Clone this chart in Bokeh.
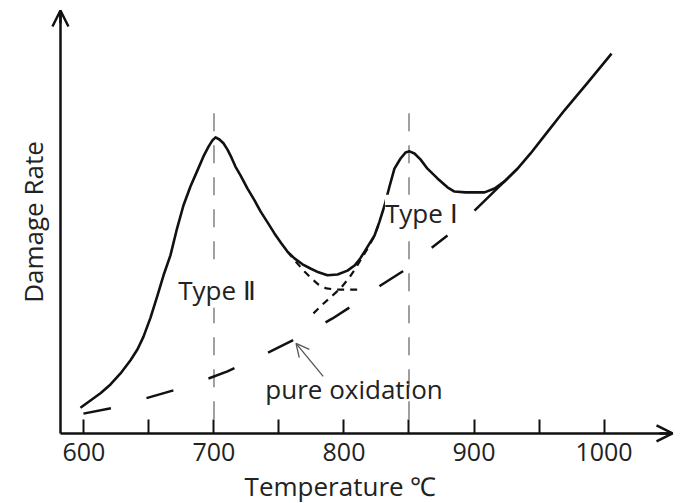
from bokeh.plotting import figure
from bokeh.models import Range1d, LinearAxis, FixedTicker, Arrow, OpenHead, Label
from bokeh.embed import file_html
from bokeh.resources import INLINE

# ---- data (temperature in degC, damage rate in arbitrary units 0-100) ----
curve_t = [597.3, 605.0, 612.7, 620.4, 628.1, 635.8, 641.2, 645.8, 651.2, 656.5,
           661.2, 666.5, 671.2, 676.5, 681.9, 687.3, 691.9, 695.8, 698.8, 701.2,
           704.2, 707.3, 710.4, 713.5, 716.5, 720.4, 725.8, 731.2, 735.8, 741.2,
           746.5, 751.9, 756.5, 761.9, 768.1, 774.2, 780.4, 787.3, 795.0, 802.7,
           808.1, 811.9, 815.8, 819.6, 823.5, 827.3, 831.2, 835.0, 838.8, 843.5,
           847.3, 850.4, 854.2, 858.8, 864.2, 871.9, 879.6, 885.0, 893.5, 901.2,
           908.1, 915.8, 923.5, 933.5, 943.5, 955.0, 969.6, 988.1, 1005.8]
curve_r = [6.1, 7.8, 9.5, 11.6, 14.2, 17.3, 19.9, 22.9, 27.4, 32.6,
           37.4, 42.1, 48.0, 53.9, 58.4, 62.2, 65.5, 67.8, 69.3, 70.0,
           69.5, 68.6, 67.1, 65.2, 63.1, 61.0, 57.9, 55.1, 52.5, 49.9,
           47.3, 44.9, 43.0, 41.4, 40.0, 39.0, 38.1, 37.4, 37.6, 38.5,
           39.7, 41.1, 43.0, 44.9, 46.8, 50.1, 53.9, 58.4, 62.6, 65.0,
           66.4, 66.7, 66.2, 64.8, 62.6, 60.3, 58.2, 57.2, 57.0, 57.0,
           57.0, 57.9, 59.6, 62.6, 66.2, 70.7, 76.4, 83.2, 89.8]

oxid_t = [599.6, 622.7, 647.3, 668.8, 695.8, 710.4, 743.5, 766.5, 791.2, 808.8,
          828.1, 845.0, 866.5, 879.6]
oxid_r = [4.7, 6.1, 8.3, 10.2, 13.0, 14.7, 19.4, 22.9, 27.2, 30.7,
          35.0, 38.3, 43.7, 46.8]
oxid_join_t = [900.4, 933.5]
oxid_join_r = [52.7, 62.6]

type2_t = [756.5, 763.5, 769.6, 775.8, 780.4, 786.5, 794.2, 801.9, 811.2]
type2_r = [43.0, 40.4, 38.3, 36.4, 35.2, 34.3, 34.0, 34.0, 34.0]

type1_t = [776.5, 783.5, 790.4, 797.3, 803.5, 808.8, 813.5, 818.1, 822.7, 826.5]
type1_r = [28.4, 30.5, 32.4, 34.3, 36.6, 39.0, 41.4, 43.7, 46.3, 49.2]

peak_t = [700, 850]
peak_top = 75.7

x_ticks = [600, 650, 700, 750, 800, 850, 900, 950, 1000]
x_tick_labels = {600: "600", 650: "", 700: "700", 750: "", 800: "800",
                 850: "", 900: "900", 950: "", 1000: "1000"}

x_title = "Temperature ℃"
y_title = "Damage Rate"
label_type2 = "Type Ⅱ"
label_type1 = "Type Ⅰ"
label_oxid = "pure oxidation"

# axis extents (data units)
x_start, x_end = 581.9, 1052.7
y_start, y_end = 0, 100

# ---- styling ----
INK = "#111111"
TXT = "#222222"
FONT = "Open Sans"
FS = "26px"
FS_TICK = "25px"

p = figure(width=681, height=503, output_backend="svg", toolbar_location=None,
           x_range=Range1d(535.8, 1059.6), y_range=Range1d(-16.55, 102.36),
           x_axis_location=None, y_axis_location=None,
           min_border_left=0, min_border_right=0, min_border_top=0,
           min_border_bottom=0)
p.outline_line_color = None
p.grid.visible = False
p.background_fill_color = "white"
p.border_fill_color = "white"

xaxis = LinearAxis(ticker=FixedTicker(ticks=x_ticks),
                   major_label_overrides=x_tick_labels,
                   fixed_location=y_start, bounds=(x_start, x_end))
xaxis.axis_line_width = 2.5
xaxis.axis_line_color = INK
xaxis.major_tick_in = 14
xaxis.major_tick_out = 0
xaxis.major_tick_line_width = 2
xaxis.major_tick_line_color = INK
xaxis.minor_tick_line_color = None
xaxis.major_label_text_font = FONT
xaxis.major_label_text_font_size = FS_TICK
xaxis.major_label_text_color = TXT
xaxis.major_label_standoff = 10
p.add_layout(xaxis, "below")

yaxis = LinearAxis(ticker=FixedTicker(ticks=[]), axis_label=y_title,
                   fixed_location=x_start, bounds=(y_start, y_end))
yaxis.axis_line_width = 2.5
yaxis.axis_line_color = INK
yaxis.major_tick_line_color = None
yaxis.minor_tick_line_color = None
yaxis.major_label_text_font_size = "0px"
yaxis.axis_label_text_font = FONT
yaxis.axis_label_text_font_size = FS
yaxis.axis_label_text_font_style = "normal"
yaxis.axis_label_text_color = TXT
yaxis.axis_label_standoff = 10
p.add_layout(yaxis, "left")

# axis arrowheads
p.add_layout(Arrow(end=OpenHead(size=16, line_width=2.5, line_color=INK),
                   x_start=x_end - 10, y_start=y_start, x_end=x_end, y_end=y_start,
                   line_width=2.5, line_color=INK))
p.add_layout(Arrow(end=OpenHead(size=16, line_width=2.5, line_color=INK),
                   x_start=x_start, y_start=y_end - 3, x_end=x_start, y_end=y_end,
                   line_width=2.5, line_color=INK))

# vertical peak markers
for t in peak_t:
    p.line([t, t], [peak_top, 0], line_color="#808080", line_width=1.5,
           line_dash="18 14")

# pure oxidation
p.line(oxid_t, oxid_r, line_color=INK, line_width=2.5, line_dash="28 37")
p.line(oxid_join_t, oxid_join_r, line_color=INK, line_width=2.5)

# component curves
p.line(type2_t, type2_r, line_color=INK, line_width=2.2, line_dash="7 6")
p.line(type1_t, type1_r, line_color=INK, line_width=2.2, line_dash="7 6")

# main damage-rate curve
p.line(curve_t, curve_r, line_color=INK, line_width=2.6, line_join="round")

# labels
p.add_layout(Label(x=672.5, y=34.0, text=label_type2, text_font=FONT,
                   text_font_size=FS, text_color=TXT, text_baseline="alphabetic",
                   background_fill_color="white"))
p.add_layout(Label(x=831.5, y=52.2, text=label_type1, text_font=FONT,
                   text_font_size=FS, text_color=TXT, text_baseline="alphabetic",
                   background_fill_color="white"))
p.add_layout(Label(x=739.5, y=10.4, text=label_oxid, text_font=FONT,
                   text_font_size=FS, text_color=TXT, text_baseline="alphabetic"))
p.add_layout(Label(x=797.3, y=-12.3, text=x_title, text_font=FONT,
                   text_font_size=FS, text_color=TXT, text_align="center",
                   text_baseline="alphabetic"))

# pointer to the oxidation line
p.add_layout(Arrow(end=OpenHead(size=13, line_width=1.3, line_color="#555555"),
                   x_start=784.0, y_start=13.5, x_end=763.1, y_end=21.3,
                   line_width=1.3, line_color="#555555"))

open("out.html", "w").write(file_html(p, INLINE))
